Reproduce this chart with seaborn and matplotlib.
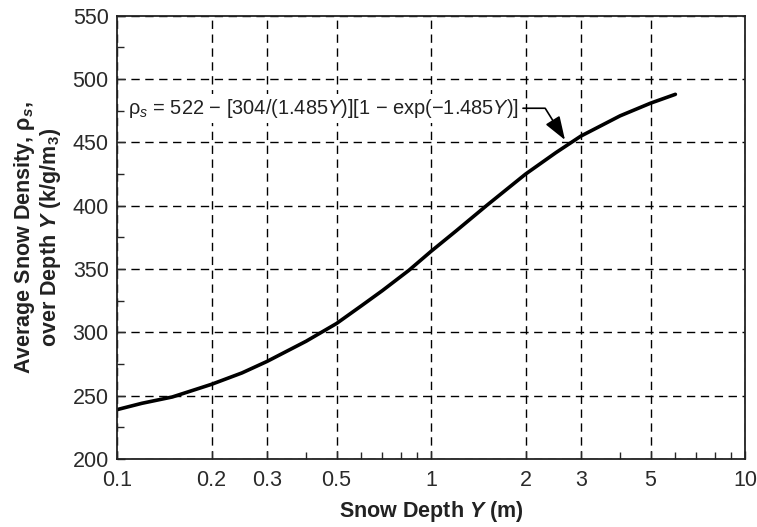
import matplotlib
matplotlib.use("Agg")
import matplotlib.pyplot as plt
import matplotlib.ticker as mticker
import pandas as pd
import seaborn as sns

# values
depth = [0.1, 0.12, 0.15, 0.2, 0.25, 0.3, 0.4, 0.5, 0.6, 0.7, 0.85, 1.0, 1.2, 1.5, 2.0, 2.5, 3.0, 4.0, 5.0, 6.0]
density = [239, 244, 249, 259, 268, 277, 293, 307, 321, 333, 349, 364, 380, 400, 425, 442, 455, 471, 481, 488]

x_major = [0.1, 0.2, 0.3, 0.5, 1, 2, 3, 5, 10]
x_labels = ["0.1", "0.2", "0.3", "0.5", "1", "2", "3", "5", "10"]
x_minor = [0.4, 0.6, 0.7, 0.8, 0.9, 4, 6, 7, 8, 9]
y_major = [200, 250, 300, 350, 400, 450, 500, 550]

df = pd.DataFrame({"depth": depth, "density": density})

sns.set_style("ticks")
plt.rcParams["font.family"] = ["Liberation Sans", "DejaVu Sans"]
plt.rcParams["mathtext.fontset"] = "custom"
plt.rcParams["mathtext.rm"] = "Liberation Sans"
plt.rcParams["mathtext.it"] = "Liberation Sans:italic"
plt.rcParams["mathtext.bf"] = "Liberation Sans:bold"
plt.rcParams["mathtext.bfit"] = "Liberation Sans:bold:italic"

fig = plt.figure(figsize=(7.57, 5.27), dpi=100)
ax = fig.add_axes([0.1546, 0.129, 0.8296, 0.841])

sns.lineplot(data=df, x="depth", y="density", color="black", lw=2.6, ax=ax)

ax.set_xscale("log")
ax.set_xlim(0.1, 10)
ax.set_ylim(200, 550)
ax.xaxis.set_major_locator(mticker.FixedLocator(x_major))
ax.xaxis.set_major_formatter(mticker.FixedFormatter(x_labels))
ax.xaxis.set_minor_locator(mticker.FixedLocator(x_minor))
ax.xaxis.set_minor_formatter(mticker.NullFormatter())
ax.set_yticks(y_major)
ax.yaxis.set_minor_locator(mticker.MultipleLocator(25))

ax.grid(True, which="major", color="black", linestyle=(0, (6, 4)), linewidth=1)
ax.tick_params(which="major", direction="in", length=6, width=1, labelsize=15.5, colors="#2a2a2a")
ax.tick_params(axis="x", which="major", pad=8)
ax.tick_params(axis="y", which="major", pad=6)
ax.tick_params(which="minor", direction="in", length=5, width=1)
for s in ax.spines.values():
    s.set_linewidth(1.3)
    s.set_color("#222222")

ax.set_xlabel(r"Snow Depth $\mathbfit{Y}$ (m)", fontsize=15.5, fontweight="bold", labelpad=6, color="#222222")
ax.set_ylabel("Average Snow Density, $\\mathbf{\\rho}_\\mathbfit{s}$,\nover Depth $\\mathbfit{Y}$ (k/g/m$_\\mathbf{3}$)",
              fontsize=15.5, fontweight="bold", labelpad=7, linespacing=1.05, color="#222222")

ax.annotate("ρ$_s$ = 522 − [304/(1.485$Y$)][1 − exp(−1.485$Y$)]",
            xy=(2.67, 452), xytext=(0.108, 477), textcoords="data",
            fontsize=14.4, va="center", ha="left", color="#222222",
            bbox=dict(boxstyle="square,pad=0.15", fc="white", ec="none"),
            arrowprops=dict(arrowstyle="-|>,head_length=1.0,head_width=0.35", color="black", lw=1.2,
                            shrinkA=1, shrinkB=0,
                            connectionstyle="angle,angleA=0,angleB=122,rad=0"))

fig.savefig("out.png", dpi=100)
